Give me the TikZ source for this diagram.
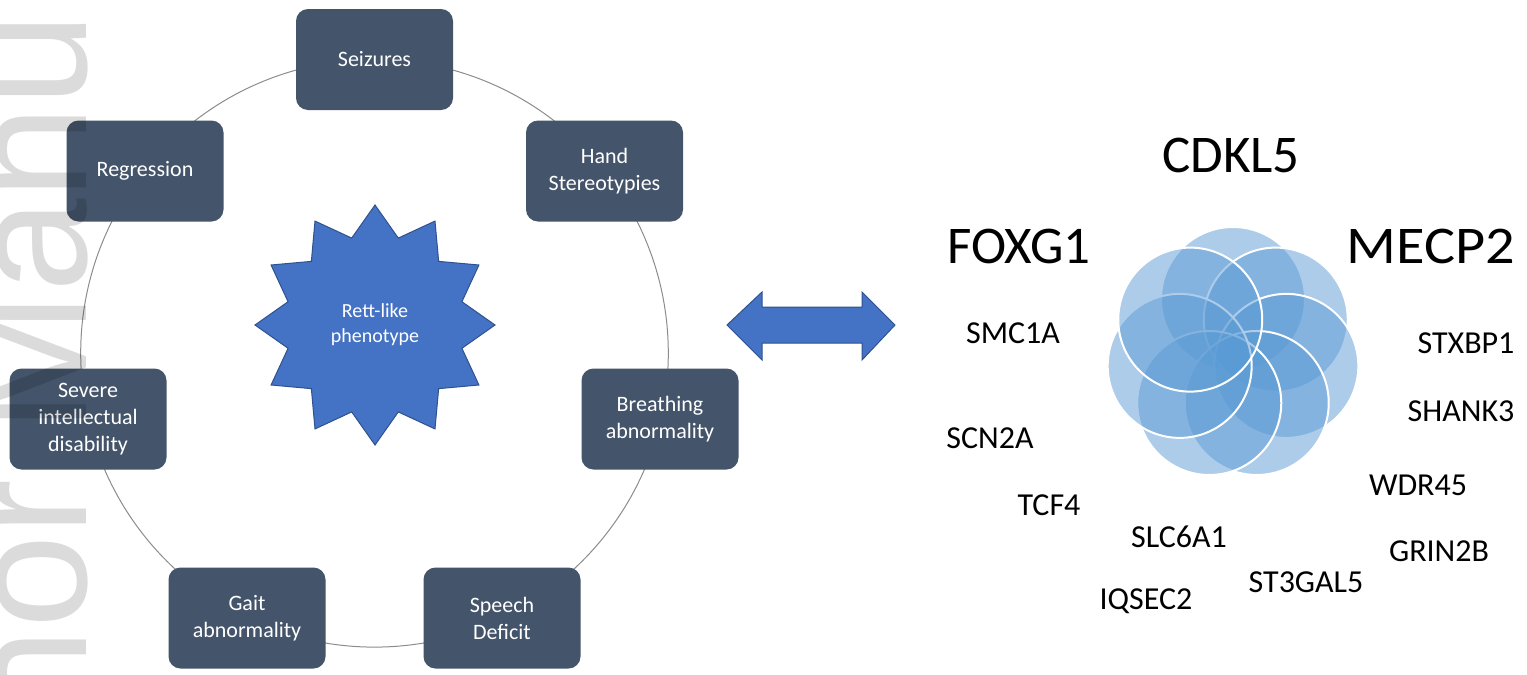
\documentclass[tikz,border=0pt]{standalone}
\usepackage{fontspec}
\setmainfont{Carlito}
\newfontfamily\wmfont{Liberation Sans}
\usetikzlibrary{calc}
\definecolor{boxfill}{HTML}{44546A}
\definecolor{starfill}{HTML}{4472C4}
\definecolor{starline}{HTML}{2F528F}
\definecolor{petal}{HTML}{5B9BD5}
\definecolor{ringline}{HTML}{8C8C8C}
\begin{document}
\begin{tikzpicture}[x=0.5pt,y=-0.5pt,
  symbox/.style={fill=boxfill, rounded corners=6pt, minimum width=78.5pt, minimum height=50.5pt,
    text=white, align=center, font=\fontsize{11}{13.5}\selectfont, inner sep=2pt},
  gene/.style={font=\fontsize{16}{19}\selectfont, inner sep=0pt},
  biggene/.style={font=\fontsize{26.5}{30}\selectfont, inner sep=0pt},
  petalc/.style={fill=petal, fill opacity=0.5, draw=white, draw opacity=1, line width=1pt},
  bluearrow/.style={fill=starfill, draw=starline, line width=0.5pt, line join=miter}]
\useasboundingbox (0,0) rectangle (1527,675);
\clip (0,0) rectangle (1527,675);
\fill[white] (0,0) rectangle (1527,675);

% ring
\coordinate (rc) at (374.5,353.3);
\draw[ringline, line width=0.5pt] (rc) circle [radius=146.9pt];

% symptom boxes
\node[symbox] (seiz) at (374.5,59.5) {Seizures};
\node[symbox] (regr) at (145,171) {Regression};
\node[symbox] (hand) at (604.5,171) {Hand\\Stereotypies};
\node[symbox] (sid)  at (88,419) {Severe\\intellectual\\disability};
\node[symbox] (brea) at (660,419) {Breathing\\abnormality};
\node[symbox] (gait) at (247,618) {Gait\\abnormality};
\node[symbox] (spee) at (502,618) {Speech\\Deficit};

% star
\coordinate (sc) at (375,325);
\path[bluearrow] ($(sc)+(90:60pt)$)
  \foreach \i [evaluate=\i as \r using {ifthenelse(mod(\i,2)==0,60,45)}] in {1,...,23} { -- ($(sc)+(90+\i*15:\r pt)$) } -- cycle;
\node[text=white, align=center, font=\fontsize{10}{12.5}\selectfont] (rett) at (sc) {Rett-like\\phenotype};

% double arrow
\coordinate (al) at (727,325);
\coordinate (ar) at (895,325);
\path[bluearrow] (al) -- (762,292) -- (762,307) -- (862,307) -- (862,292) -- (ar)
  -- (862,360) -- (862,343) -- (762,343) -- (762,360) -- cycle;

% flower of seven circles
\coordinate (fc) at (1233,353.7);
\foreach \k in {0,...,6} {
  \path[petalc] ($(fc)+(90-\k*51.4286:27.35pt)$) circle [radius=36pt];
}

% gene labels
\node[biggene] (cdkl5) at (1231,155) {CDKL5};
\node[biggene] (foxg1) at (1019,246) {FOXG1};
\node[biggene, xscale=1.1] (mecp2) at (1431,246) {MECP2};
\node[gene] (smc1a) at (1013,333) {SMC1A};
\node[gene] (stxbp1) at (1466,343) {STXBP1};
\node[gene] (shank3) at (1461,411) {SHANK3};
\node[gene] (scn2a) at (990,438) {SCN2A};
\node[gene] (wdr45) at (1418,485) {WDR45};
\node[gene] (tcf4) at (1049,505) {TCF4};
\node[gene] (slc6a1) at (1179,537) {SLC6A1};
\node[gene] (grin2b) at (1439,551) {GRIN2B};
\node[gene] (st3gal5) at (1306,582) {ST3GAL5};
\node[gene] (iqsec2) at (1146,601) {IQSEC2};

% watermark (partly outside the page)
\node[rotate=90, anchor=base east, inner sep=0pt, text=black, text opacity=0.14,
  font=\wmfont\fontsize{84}{84}\selectfont] (wm) at (86,12) {hor Manu};
\end{tikzpicture}
\end{document}
